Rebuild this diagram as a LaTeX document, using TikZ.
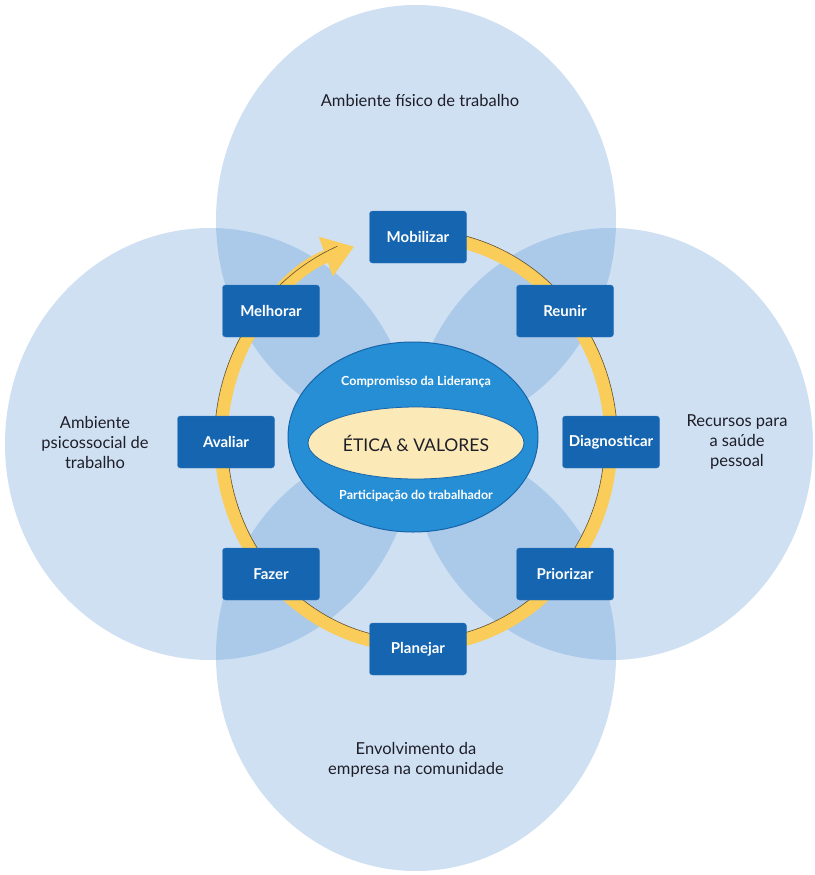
\documentclass[tikz,border=0pt]{standalone}
\usepackage{fontspec}
\setmainfont{Lato}
\usetikzlibrary{calc,arrows.meta,shapes.geometric}
\definecolor{areablue}{RGB}{63,131,203}
\definecolor{stageblue}{RGB}{21,101,177}
\definecolor{hubblue}{RGB}{38,142,212}
\definecolor{hubedge}{RGB}{22,100,170}
\definecolor{coreyellow}{RGB}{251,233,183}
\definecolor{cycleyellow}{RGB}{250,204,90}
\definecolor{cycleedge}{RGB}{95,80,45}
\definecolor{labeltext}{RGB}{30,30,40}

\begin{document}
\begin{tikzpicture}[x=1pt,y=-1pt,
        area/.style={fill=areablue,fill opacity=0.25},
        stage/.style={draw=stageblue!85!white,fill=stageblue,rounded corners=3pt,
          minimum width=97pt,minimum height=52pt,inner sep=1pt,text=white,
          font=\fontsize{15}{17}\selectfont\bfseries},
        areatext/.style={align=center,text=labeltext,font=\fontsize{16.5}{20}\selectfont},
        hubtext/.style={text=white,font=\fontsize{12.5}{14}\selectfont\bfseries},
        cycleline/.style={cycleedge,line width=0.6pt}]
        \useasboundingbox (0,0) rectangle (814,875);
        % the four areas
        \fill[area] (416,220) ellipse [x radius=200pt, y radius=215pt];
        \fill[area] (416,656) ellipse [x radius=200pt, y radius=215pt];
        \fill[area] (210,444) ellipse [x radius=205pt, y radius=216pt];
        \fill[area] (611,444) ellipse [x radius=202pt, y radius=216pt];
        \node[areatext] (fisico) at (420,100) {Ambiente físico de trabalho};
        \node[areatext] (psico) at (95,442) {Ambiente\\psicossocial de\\trabalho};
        \node[areatext] (recursos) at (737,442) {Recursos para\\a saúde\\pessoal};
        \node[areatext] (comunidade) at (416,760) {Envolvimento da\\empresa na comunidade};
        % the cycle
        \coordinate (ringc) at (416,441);
        \draw[cycleyellow,line width=13pt,-{Triangle[length=30pt,width=40pt]}]
          ($(ringc)+(76:195pt and 205pt)$)
          arc[start angle=76,end angle=-251.5,x radius=195pt,y radius=205pt];
        \draw[cycleline] ($(ringc)+(76:201.5pt and 211.5pt)$)
          arc[start angle=76,end angle=0,x radius=201.5pt,y radius=211.5pt];
        \draw[cycleline] ($(ringc)+(0:188.5pt and 198.5pt)$)
          arc[start angle=0,end angle=-180,x radius=188.5pt,y radius=198.5pt];
        \draw[cycleline] ($(ringc)+(180:201.5pt and 211.5pt)$)
          arc[start angle=180,end angle=113,x radius=201.5pt,y radius=211.5pt];
        % centre
        \node[ellipse,draw=hubedge,fill=hubblue,line width=1pt,
          minimum width=250pt,minimum height=190pt] (hub) at (413,437) {};
        \node[ellipse,draw=hubedge,fill=coreyellow,line width=0.8pt,
          minimum width=164pt,minimum height=72pt,text=labeltext,
          font=\fontsize{17.5}{20}\selectfont] (core) at (416,443) {ÉTICA \& VALORES};
        \node[hubtext] (lideranca) at (416,382) {Compromisso da Liderança};
        \node[hubtext] (trabalhador) at (416,496) {Participação do trabalhador};
        % steps
        \node[stage] (mobilizar) at (418,237) {Mobilizar};
        \node[stage] (reunir) at (565,311) {Reunir};
        \node[stage] (diagnosticar) at (611,442) {Diagnosticar};
        \node[stage] (priorizar) at (565,574) {Priorizar};
        \node[stage] (planejar) at (418,649) {Planejar};
        \node[stage] (fazer) at (271,574) {Fazer};
        \node[stage] (avaliar) at (226,442) {Avaliar};
        \node[stage] (melhorar) at (271,311) {Melhorar};
  \end{tikzpicture}
\end{document}
